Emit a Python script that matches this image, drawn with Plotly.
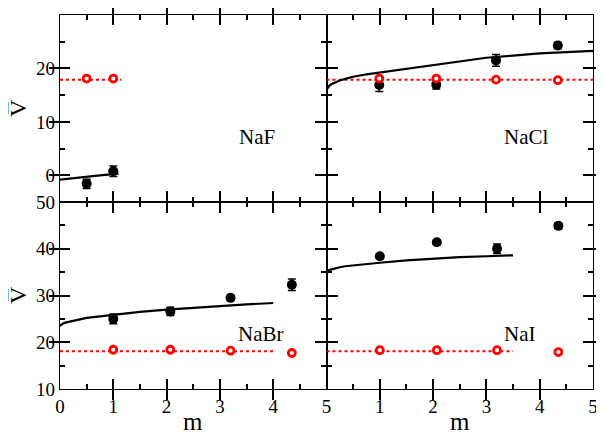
import plotly.graph_objects as go
from plotly.subplots import make_subplots

# ---------------- data ----------------
# NaF (top-left)
naf_m = [0.5, 1.0]
naf_sim = [-1.6, 0.75]
naf_sim_err = [0.85, 1.0]
naf_exp = [18.1, 18.1]
naf_fit_m = [0.0, 0.25, 0.5, 0.75, 1.0, 1.1]
naf_fit_v = [-0.8, -0.5, -0.25, 0.0, 0.2, 0.3]
naf_ref_m = [0.0, 1.15]
naf_ref_v = [17.9, 17.9]

# NaCl (top-right)
nacl_m = [0.99, 2.06, 3.18, 4.34]
nacl_sim = [16.9, 16.95, 21.5, 24.3]
nacl_sim_err = [1.2, 0.8, 1.1, 0.6]
nacl_exp = [18.1, 18.1, 17.9, 17.8]
nacl_fit_m = [0.0, 0.02, 0.05, 0.1, 0.17, 0.25, 0.35, 0.5, 0.75, 1.0, 1.5, 2.0, 2.5, 3.0, 3.5, 4.0, 4.5, 5.0]
nacl_fit_v = [16.0, 16.4, 16.75, 17.1, 17.45, 17.75, 18.05, 18.45, 18.9, 19.25, 20.0, 20.7, 21.4, 22.0, 22.4, 22.8, 23.05, 23.3]
nacl_ref_m = [0.0, 5.0]
nacl_ref_v = [17.9, 17.9]

# NaBr (bottom-left)
nabr_m = [1.0, 2.07, 3.2, 4.35]
nabr_sim = [25.0, 26.6, 29.5, 32.3]
nabr_sim_err = [1.05, 0.9, 0.5, 1.25]
nabr_exp = [18.4, 18.4, 18.2, 17.7]
nabr_exp_err = [0.0, 0.0, 0.0, 0.5]
nabr_fit_m = [0.0, 0.02, 0.05, 0.1, 0.17, 0.25, 0.35, 0.5, 0.75, 1.0, 1.5, 2.0, 2.5, 3.0, 3.5, 4.0]
nabr_fit_v = [23.5, 23.75, 23.95, 24.2, 24.4, 24.6, 24.85, 25.2, 25.55, 25.9, 26.5, 27.0, 27.4, 27.8, 28.1, 28.4]
nabr_ref_m = [0.0, 4.0]
nabr_ref_v = [18.1, 18.1]

# NaI (bottom-right)
nai_m = [1.0, 2.07, 3.2, 4.35]
nai_sim = [38.4, 41.4, 40.0, 44.9]
nai_sim_err = [0.5, 0.5, 1.0, 0.6]
nai_exp = [18.3, 18.3, 18.3, 17.9]
nai_fit_m = [0.0, 0.02, 0.05, 0.1, 0.17, 0.25, 0.35, 0.5, 0.75, 1.0, 1.5, 2.0, 2.5, 3.0, 3.5]
nai_fit_v = [35.1, 35.3, 35.45, 35.6, 35.85, 36.05, 36.25, 36.45, 36.75, 37.0, 37.5, 37.9, 38.2, 38.4, 38.6]
nai_ref_m = [0.0, 3.5]
nai_ref_v = [18.1, 18.1]

panel_names = ["NaF", "NaCl", "NaBr", "NaI"]
label_pos_m = [3.69, 3.75, 3.78, 3.62]
label_pos_v = [7.1, 7.1, 21.8, 21.8]

x_major = [0, 1, 2, 3, 4, 5]
x_minor = [0.5, 1.5, 2.5, 3.5, 4.5]
y_top_major = [0, 10, 20, 30]
y_top_minor = [5, 15, 25]
y_bot_major = [10, 20, 30, 40, 50]
y_bot_minor = [15, 25, 35, 45]

# ---------------- figure ----------------
fig = make_subplots(rows=2, cols=2, horizontal_spacing=0, vertical_spacing=0)

RED = "#ff0000"
panels = [
    (1, 1, naf_m, naf_sim, naf_sim_err, naf_exp, None, naf_fit_m, naf_fit_v, naf_ref_m, naf_ref_v),
    (1, 2, nacl_m, nacl_sim, nacl_sim_err, nacl_exp, None, nacl_fit_m, nacl_fit_v, nacl_ref_m, nacl_ref_v),
    (2, 1, nabr_m, nabr_sim, nabr_sim_err, nabr_exp, nabr_exp_err, nabr_fit_m, nabr_fit_v, nabr_ref_m, nabr_ref_v),
    (2, 2, nai_m, nai_sim, nai_sim_err, nai_exp, None, nai_fit_m, nai_fit_v, nai_ref_m, nai_ref_v),
]

for (r, c, m, sim, err, exp, experr, fm, fv, rm, rv) in panels:
    fig.add_trace(go.Scatter(x=rm, y=rv, mode="lines",
                             line=dict(color=RED, width=2, dash="dot"),
                             showlegend=False, hoverinfo="skip"), row=r, col=c)
    fig.add_trace(go.Scatter(x=fm, y=fv, mode="lines",
                             line=dict(color="black", width=2.2),
                             showlegend=False), row=r, col=c)
    fig.add_trace(go.Scatter(x=m, y=sim, mode="markers",
                             marker=dict(symbol="circle", size=10, color="black"),
                             error_y=dict(type="data", array=err, color="black",
                                          thickness=1.5, width=4),
                             showlegend=False), row=r, col=c)
    ey = None
    if experr is not None:
        ey = dict(type="data", array=experr, color=RED, thickness=1.5, width=3)
    fig.add_trace(go.Scatter(x=m, y=exp, mode="markers",
                             marker=dict(symbol="circle", size=7, color="white",
                                         line=dict(color=RED, width=2.8)),
                             error_y=ey,
                             showlegend=False), row=r, col=c)

serif = "Liberation Serif"
tickfont = dict(family=serif, size=19, color="black")

for r in (1, 2):
    for c in (1, 2):
        fig.update_xaxes(showline=True, linecolor="black", linewidth=1.3, mirror="allticks",
                         ticks="inside", ticklen=10, tickwidth=1.5, tickcolor="black",
                         showgrid=False, zeroline=False, tickfont=tickfont,
                         range=[0, 5], tickmode="array", tickvals=x_major,
                         ticktext=(["", "1", "2", "3", "4", "5"] if c == 2 else [str(v) for v in x_major]),
                         showticklabels=(r == 2), automargin=False,
                         row=r, col=c)
        fig.update_yaxes(showline=True, linecolor="black", linewidth=1.3, mirror="allticks",
                         ticks="inside", ticklen=10, tickwidth=1.5, tickcolor="black",
                         showgrid=False, zeroline=False, tickfont=tickfont,
                         range=([-5, 30] if r == 1 else [10, 50]), tickmode="array",
                         tickvals=(y_top_major if r == 1 else y_bot_major),
                         showticklabels=(c == 1), automargin=False,
                         row=r, col=c)

# overlay axes carrying the minor ticks
for i, (r, c) in enumerate([(1, 1), (1, 2), (2, 1), (2, 2)], start=1):
    mx = "x" if i == 1 else f"x{i}"
    my = "y" if i == 1 else f"y{i}"
    ox, oy = 4 + i, 4 + i
    yr = [-5, 30] if r == 1 else [10, 50]
    ymin = y_top_minor if r == 1 else y_bot_minor
    common = dict(showline=True, linecolor="black", linewidth=1.3,
                  ticks="inside", ticklen=5, tickwidth=1.5, tickcolor="black",
                  mirror="allticks", showticklabels=False, showgrid=False, zeroline=False,
                  tickmode="array", automargin=False)
    fig.update_layout({
        f"xaxis{ox}": dict(common, overlaying=mx, anchor=my, side="bottom", range=[0, 5],
                           tickvals=x_minor),
        f"yaxis{oy}": dict(common, overlaying=my, anchor=mx, side="left", range=yr,
                           tickvals=ymin),
    })
    fig.add_trace(go.Scatter(x=[None], y=[None], xaxis=f"x{ox}", yaxis=my,
                             showlegend=False, hoverinfo="skip"))
    fig.add_trace(go.Scatter(x=[None], y=[None], xaxis=mx, yaxis=f"y{oy}",
                             showlegend=False, hoverinfo="skip"))

# panel labels
axrefs = [("x", "y"), ("x2", "y2"), ("x3", "y3"), ("x4", "y4")]
for name, (xr, yr), lx, ly in zip(panel_names, axrefs, label_pos_m, label_pos_v):
    fig.add_annotation(x=lx, y=ly, xref=xr, yref=yr, text=name, showarrow=False,
                       xanchor="center", yanchor="middle",
                       font=dict(family=serif, size=21, color="black"))

# axis titles
for yc in (0.751, 0.251):
    fig.add_annotation(x=-0.079, y=yc, xref="paper", yref="paper",
                       text="V\u0305", textangle=-90, showarrow=False,
                       xanchor="center", yanchor="middle",
                       font=dict(family=serif, size=24, color="black"))
for xc in (0.25, 0.75):
    fig.add_annotation(x=xc, y=-0.088, xref="paper", yref="paper", text="m",
                       showarrow=False, xanchor="center", yanchor="middle",
                       font=dict(family=serif, size=25, color="black"))

# the page body carries an 8px margin, so the figure is 8px smaller and offset
fig.update_layout(width=596, height=427, margin=dict(l=52, r=11, t=7, b=46),
                  plot_bgcolor="white", paper_bgcolor="white")

fig.write_html("out.html")
